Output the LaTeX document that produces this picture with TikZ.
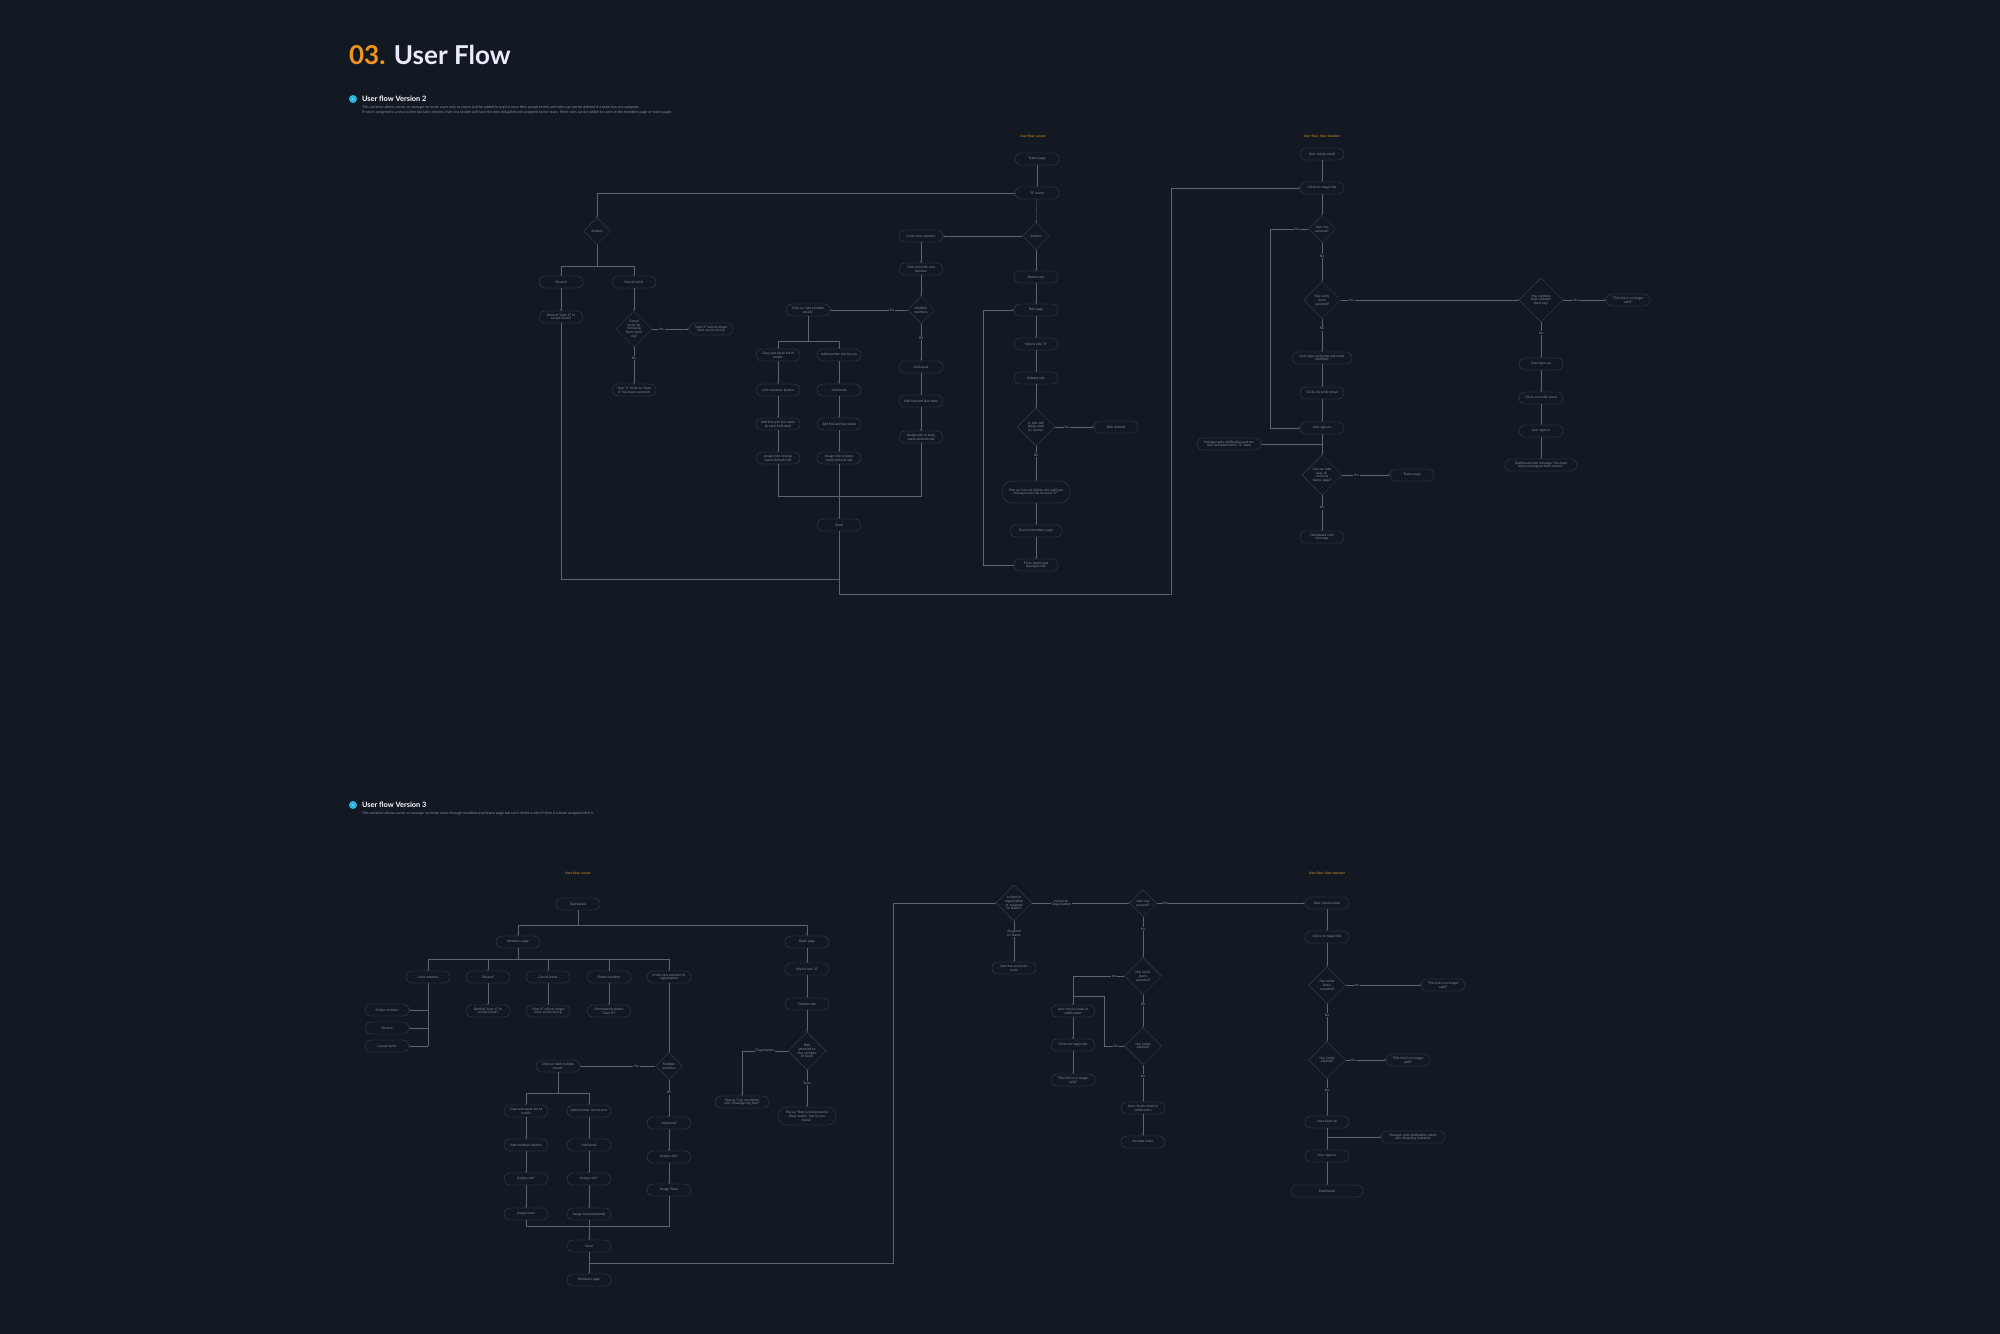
\documentclass[tikz,border=0pt]{standalone}
\usepackage{fontspec}
\setmainfont{Lato}
\usetikzlibrary{shapes.geometric,arrows.meta}
\definecolor{bg}{HTML}{121923}
\definecolor{boxc}{HTML}{3E4A5A}
\definecolor{linec}{HTML}{5A6676}
\definecolor{txt}{HTML}{8390A0}
\definecolor{orng}{HTML}{F0961E}
\definecolor{cyn}{HTML}{2EB4E0}
\newcommand\fsz{\fontsize{4.8}{5.4}\selectfont}
\begin{document}
\begin{tikzpicture}[x=0.05cm,y=-0.05cm,
  box/.style={draw=boxc,line width=0.4pt,rounded corners=0.3cm,minimum width=2.2cm,minimum height=0.6cm,align=center,text=txt,font=\fsz,inner sep=1pt},
  dia/.style={draw=boxc,line width=0.4pt,diamond,aspect=1,inner sep=0pt,align=center,text=txt,font=\fsz,minimum size=#1*0.05cm,text width=#1*0.027cm},
  lbl/.style={fill=bg,text=txt,font=\fsz,inner sep=1pt,align=center},
  hdr/.style={text=orng,font=\fsz},
  arr/.style={draw=linec,line width=0.4pt,-{Stealth[length=2.2pt,width=2pt]}},
  ln/.style={draw=linec,line width=0.4pt},
  desc/.style={text=txt,font=\fontsize{5.2}{6}\selectfont,anchor=west,inner sep=0pt},
  sub/.style={text=white,font=\fontsize{10.5}{12}\selectfont\bfseries,anchor=west,inner sep=0pt}]
\fill[bg] (0,0) rectangle (2000,1334);
\useasboundingbox (0,0) rectangle (2000,1334);
% ---------- Titles
\node[anchor=base west,inner sep=0pt,font=\fontsize{37}{40}\selectfont\bfseries] (title) at (349,64) {\textcolor{orng}{03.} \textcolor{white!92!blue}{User Flow}};
\node[circle,fill=cyn,minimum size=0.4cm,inner sep=0pt,text=white,font=\fontsize{4}{4}\selectfont] (b2) at (353,99) {2};
\node[sub] (s2) at (362,99) {User flow Version 2};
\node[desc] (d2a) at (362,107) {This variation allows owner or manager to invite users only to teams (will be added to org list once they accept invite) and roles can not be deleted if a team has one assigned.};
\node[desc] (d2b) at (362,112.5) {If role is assigned to a new invitee but later deleted, that new invitee will have the new defaulted role assigned to the team. More roles can be added to users in the members page or teams page.};
\node[circle,fill=cyn,minimum size=0.4cm,inner sep=0pt,text=white,font=\fontsize{4}{4}\selectfont] (b3) at (353,805) {3};
\node[sub] (s3) at (362,805) {User flow Version 3};
\node[desc] (d3a) at (362,813) {This variation allows owner or manager to invite users through members and teams page but can't delete a role if there is a team assigned with it};

% ================= V2 owner
\node[hdr] (h1) at (1033,136) {User flow: owner};
\node[box] (tp) at (1037,159) {Teams page};
\node[box] (xt) at (1037,193) {“X” teams};
\node[dia=27] (act) at (1036,236) {Actions};
\draw[arr] (tp)--(xt);
\draw[arr] (xt)--(act);
\node[box] (inv) at (921,236) {Invite new member};
\draw[arr] (act)--(inv);
\node[box] (cin) at (921,269) {Click on Invite new\\member};
\node[dia=27] (mm) at (921,310) {Multiple\\members};
\draw[arr] (inv)--(cin);
\draw[arr] (cin)--(mm);
\node[box] (cam) at (808,310) {Click on “add multiple\\emails”};
\draw[arr] (mm) -- node[lbl,pos=0.2]{Yes} (cam);
\node[box] (cp) at (778,355) {Copy and paste list of\\emails};
\node[box] (ao) at (839,355) {Add member one by one};
\coordinate (br1) at (808,341);
\draw[ln] (cam) -- (br1);
\draw[arr] (br1) -| (cp.north);
\draw[arr] (br1) -| (ao.north);
\node[box] (amb) at (778,390) {Add members button};
\node[box] (ae1) at (839,390) {Add email};
\node[box] (afl1) at (778,424) {Add first and last name\\to each individual};
\node[box] (afl2) at (839,424) {Add first and last name};
\node[box] (ar1) at (778,458) {Assign role or keep\\teams default role};
\node[box] (ar2) at (839,458) {Assign role or keep\\teams default role};
\draw[arr] (cp)--(amb); \draw[arr] (amb)--(afl1); \draw[arr] (afl1)--(ar1);
\draw[arr] (ao)--(ae1); \draw[arr] (ae1)--(afl2); \draw[arr] (afl2)--(ar2);
\node[box] (ae3) at (921,367) {Add email};
\node[box] (afl3) at (921,401) {Add first and last name};
\node[box] (ar3) at (921,437) {Assign role or keep\\teams default role};
\draw[arr] (mm) -- node[lbl,pos=0.4]{No} (ae3);
\draw[arr] (ae3)--(afl3); \draw[arr] (afl3)--(ar3);
\node[box] (send) at (839,525) {Send};
\coordinate (m1) at (921,496);
\draw[ln] (ar1.south) |- (m1) -- (ar3.south);
\draw[arr] (ar2) -- (send);
% top-left actions
\node[dia=27] (act2) at (597,231) {Actions};
\draw[arr] (xt.west) -| (act2.north);
\node[box] (res) at (561,282) {Resend};
\node[box] (can) at (634,282) {Cancel invite};
\coordinate (b1) at (597,266);
\draw[ln] (act2.south) -- (b1);
\draw[arr] (b1) -| (res.north);
\draw[arr] (b1) -| (can.north);
\node[box] (rem) at (561,317) {Remind “User X” to\\accept invite?};
\draw[arr] (res)--(rem);
\node[dia=33] (cd) at (634,329) {Cancel\\invite by\\removing\\them from\\org?};
\draw[arr] (can)--(cd);
\node[box] (nla) at (711,329) {“User X” will no longer\\have access to org};
\draw[arr] (cd) -- node[lbl,pos=0.25]{Yes} (nla);
\node[box] (cic) at (634,390) {“User X” invite to “team\\X” has been canceled};
\draw[arr] (cd) -- node[lbl,pos=0.3]{No} (cic);
% bottom connectors
\coordinate (c2) at (839,579);
\coordinate (c1) at (1171,594);
\draw[ln] (rem.south) |- (c2);
% role side
\node[box] (dr) at (1036,277) {Delete role};
\node[box] (rp) at (1036,310) {Role page};
\node[box] (sr) at (1036,344) {Selects role “X”};
\node[box] (dl) at (1036,378) {Deletes role};
\node[dia=38] (rd) at (1036,427) {Is role still\\being used\\by teams?};
\node[box] (rdel) at (1116,427) {Role deleted};
\node[box,minimum width=3.4cm,minimum height=1.1cm,rounded corners=0.5cm] (pop) at (1036,492) {Pop-up “can not delete role until you\\reassign new role to team “X””};
\node[box,minimum width=2.6cm] (gm) at (1036,531) {Goes to members page};
\node[box] (ft) at (1036,565) {Finds teams and\\reassigns role};
\draw[arr] (act)--(dr); \draw[arr] (dr)--(rp); \draw[arr] (rp)--(sr); \draw[arr] (sr)--(dl); \draw[arr] (dl)--(rd);
\draw[arr] (rd) -- node[lbl,pos=0.3]{Yes} (rdel);
\draw[arr] (rd) -- node[lbl,pos=0.25]{No} (pop);
\draw[arr] (pop)--(gm); \draw[arr] (gm)--(ft);
\coordinate (l1) at (983,0);
\draw[arr] (ft.west) -| (l1 |- rp) -- (rp.west);

% ================= V2 new member
\node[hdr] (h2) at (1322,136) {User flow: New member};
\node[box] (uce) at (1322,154) {User checks email};
\node[box] (cml) at (1322,188) {Clicks on magic link};
\draw[arr] (send.south) |- (c1) |- (cml.west);
\node[dia=27] (uha) at (1322,229) {User has\\account?};
\node[dia=37] (hic) at (1322,300) {Has invite\\been\\canceled?};
\node[dia=44] (hmd) at (1541,300) {Has member\\been deleted\\from org?};
\node[box] (nlv) at (1628,300) {“This link is no longer\\valid”};
\node[box] (usu2) at (1541,364) {User signs up};
\node[box] (cve2) at (1541,398) {Clicks on verify email};
\node[box] (usi2) at (1541,431) {User signs in};
\node[box,minimum width=3.6cm] (dwm2) at (1541,465) {Dashboard with message “You have\\been unassigned from a team.”};
\node[box,minimum width=3cm] (usu) at (1322,358) {User signs up (name and email\\prefilled)};
\node[box] (cve) at (1322,393) {Clicks on verify email};
\node[box] (usi) at (1322,428) {User signs in};
\node[box,minimum width=3.2cm] (mgn) at (1229,444) {Manager gets notification and see\\user accepted under “X” team};
\node[dia=40] (ctp) at (1322,475) {Can we take\\user directly to\\teams page?};
\node[box] (tpg) at (1412,475) {Teams page};
\node[box] (dwm) at (1322,537) {Dashboard with\\message};
\draw[arr] (uce)--(cml); \draw[arr] (cml)--(uha);
\draw[arr] (uha) -- node[lbl,pos=0.35]{No} (hic);
\draw[arr] (uha.west) -- node[lbl,pos=0.3]{Yes} (1270,229) |- (usi.west);
\draw[arr] (hic) -- node[lbl,pos=0.06]{Yes} (hmd);
\draw[arr] (hmd) -- node[lbl,pos=0.3]{Yes} (nlv);
\draw[arr] (hmd) -- node[lbl,pos=0.3]{No} (usu2);
\draw[arr] (usu2)--(cve2); \draw[arr] (cve2)--(usi2); \draw[arr] (usi2)--(dwm2);
\draw[arr] (hic) -- node[lbl,pos=0.3]{No} (usu);
\draw[arr] (usu)--(cve); \draw[arr] (cve)--(usi);
\draw[arr] (usi)--(ctp);
\coordinate (j1) at (1322,444);
\draw[arr] (j1) -- (mgn.east);
\draw[arr] (ctp) -- node[lbl,pos=0.3]{Yes} (tpg);
\draw[arr] (ctp) -- node[lbl,pos=0.35]{No} (dwm);

% ================= V3 owner
\node[hdr] (h3) at (578,873) {User flow: owner};
\node[box] (db) at (578,904) {Dashboard};
\node[box] (mp) at (518,942) {Members page};
\node[box] (rlp) at (807,942) {Roles page};
\coordinate (d1) at (578,925);
\draw[ln] (db)--(d1);
\draw[arr] (d1) -| (mp.north);
\draw[arr] (d1) -| (rlp.north);
\node[box] (vm) at (428,977) {View member};
\node[box] (rs) at (488,977) {Resend};
\node[box] (ci) at (548,977) {Cancel invite};
\node[box] (dm) at (609,977) {Delete member};
\node[box] (inm) at (669,977) {Invite new member to\\organization};
\coordinate (d2) at (518,959);
\draw[ln] (mp)--(d2);
\foreach \n in {vm,rs,ci,dm,inm} \draw[arr] (d2) -| (\n.north);
\node[box] (dm2) at (387,1010) {Delete member};
\node[box] (rs2) at (387,1028) {Resend};
\node[box] (ci2) at (387,1046) {Cancel invite};
\coordinate (v1) at (428,1046);
\draw[ln] (vm.south) -- (v1);
\draw[arr] (dm2 -| v1) -- (dm2.east);
\draw[arr] (rs2 -| v1) -- (rs2.east);
\draw[arr] (v1) -- (ci2.east);
\node[box] (rm3) at (488,1011) {Remind “User X” to\\accept invite?};
\node[box] (nla3) at (548,1011) {“User X” will no longer\\have access to org};
\node[box] (pd) at (609,1011) {Permanently delete\\“User X”?};
\draw[arr] (rs)--(rm3); \draw[arr] (ci)--(nla3); \draw[arr] (dm)--(pd);
\node[dia=27] (mm3) at (669,1066) {Multiple\\members};
\draw[arr] (inm)--(mm3);
\node[box] (cam3) at (558,1066) {Click on “add multiple\\emails”};
\draw[arr] (mm3) -- node[lbl,pos=0.25]{Yes} (cam3);
\node[box] (cp3) at (526,1111) {Copy and paste list of\\emails};
\node[box] (ao3) at (589,1111) {Add member one by one};
\coordinate (br3) at (558,1093);
\draw[ln] (cam3)--(br3);
\draw[arr] (br3) -| (cp3.north);
\draw[arr] (br3) -| (ao3.north);
\node[box] (amb3) at (526,1145) {Add members button};
\node[box] (ae3b) at (589,1145) {Add email};
\node[box] (ar3a) at (526,1179) {Assign role?};
\node[box] (ar3b) at (589,1179) {Assign role?};
\node[box] (at3a) at (526,1214) {Assign team};
\node[box] (at3b) at (589,1214) {Assign team (optional)};
\draw[arr] (cp3)--(amb3); \draw[arr] (amb3)--(ar3a); \draw[arr] (ar3a)--(at3a);
\draw[arr] (ao3)--(ae3b); \draw[arr] (ae3b)--(ar3b); \draw[arr] (ar3b)--(at3b);
\node[box] (ae3c) at (669,1123) {Add email};
\node[box] (ar3c) at (669,1157) {Assign role?};
\node[box] (at3c) at (669,1190) {Assign Team};
\draw[arr] (mm3) -- node[lbl,pos=0.35]{No} (ae3c);
\draw[arr] (ae3c)--(ar3c); \draw[arr] (ar3c)--(at3c);
\coordinate (m3) at (669,1226);
\draw[ln] (at3a.south) |- (m3) -- (at3c.south);
\node[box] (send3) at (589,1246) {Send};
\node[box] (mp3) at (589,1280) {Members page};
\draw[arr] (at3b)--(send3);
\draw[arr] (send3)--(mp3);
% roles
\node[box] (sr3) at (807,969) {Selects role “X”};
\node[box] (dl3) at (807,1004) {Deletes role};
\node[dia=38] (rad) at (807,1051) {Role\\attached to\\Org member\\or team};
\node[box,minimum width=2.7cm] (pu1) at (742,1102) {Pop up “Can not delete\\role. Unassign org first.”};
\node[box,minimum width=2.9cm,minimum height=0.9cm,rounded corners=0.45cm] (pu2) at (807,1116) {Pop up “Role is being used in\\these teams. Just so you\\know”};
\draw[arr] (rlp)--(sr3); \draw[arr] (sr3)--(dl3); \draw[arr] (dl3)--(rad);
\draw[arr] (rad.west) -| node[lbl,pos=0.25]{Organization} (pu1.north);
\draw[arr] (rad) -- node[lbl,pos=0.35]{Team} (pu2);

% ================= V3 new member (middle)
\node[dia=36] (inv3) at (1014,903) {Invited to\\organization\\or assigned\\to teams?};
\coordinate (e1) at (589,1263);
\coordinate (e2) at (893,1263);
\draw[arr] (e1) -- (e2) |- (inv3.west);
\node[dia=27] (uha3) at (1143,903) {User has\\account?};
\draw[arr] (inv3) -- node[lbl,pos=0.3]{Invited to\\Organization} (uha3);
\node[box] (uht) at (1014,968) {User has access to\\team};
\draw[arr] (inv3) -- node[lbl,pos=0.3]{Assigned\\to Teams} (uht);
\node[dia=37] (hic3) at (1143,976) {Has invite\\been\\canceled?};
\draw[arr] (uha3) -- node[lbl,pos=0.3]{Yes} (hic3);
\node[box] (uce3) at (1073,1011) {User checks email or\\notification};
\node[box] (cml3) at (1073,1045) {Clicks on magic link};
\node[box] (nlv3) at (1073,1080) {“This link is no longer\\valid”};
\draw[arr] (hic3.west) -| node[lbl,pos=0.1]{Yes} (uce3.north);
\draw[arr] (uce3)--(cml3); \draw[arr] (cml3)--(nlv3);
\node[dia=37] (hie3) at (1143,1046) {Has invite\\expired?};
\draw[arr] (hic3) -- node[lbl,pos=0.3]{No} (hie3);
\coordinate (k1) at (1073,996);
\draw[ln] (hie3.west) -- node[lbl,pos=0.4]{Yes} (1104,1046) |- (k1);
\node[box] (uce3b) at (1143,1108) {User checks email or\\notification};
\node[box] (acc) at (1143,1142) {Accepts invite};
\draw[arr] (hie3) -- node[lbl,pos=0.3]{No} (uce3b);
\draw[arr] (uce3b)--(acc);

% ================= V3 new member (right)
\node[hdr] (h4) at (1327,873) {User flow: New member};
\node[box] (uce4) at (1327,903) {User checks email};
\draw[arr] (uha3) -- node[lbl,pos=0.06]{No} (uce4);
\node[box] (cml4) at (1327,937) {Clicks on magic link};
\node[dia=37] (hic4) at (1327,985) {Has invite\\been\\canceled?};
\node[box] (nlv4) at (1443,985) {“This link is no longer\\valid”};
\node[dia=37] (hie4) at (1327,1060) {Has invite\\expired?};
\node[box] (nlv5) at (1408,1060) {“This link is no longer\\valid”};
\node[box] (usu4) at (1327,1122) {User signs up};
\node[box,minimum width=3.2cm] (mgn4) at (1413,1137) {Manager gets notification about\\user accepting invitation};
\node[box] (usi4) at (1327,1156) {User signs in};
\node[box,minimum width=3.6cm] (db4) at (1327,1191) {Dashboard};
\draw[arr] (uce4)--(cml4); \draw[arr] (cml4)--(hic4);
\draw[arr] (hic4) -- node[lbl,pos=0.15]{Yes} (nlv4);
\draw[arr] (hic4) -- node[lbl,pos=0.3]{No} (hie4);
\draw[arr] (hie4) -- node[lbl,pos=0.2]{Yes} (nlv5);
\draw[arr] (hie4) -- node[lbl,pos=0.3]{No} (usu4);
\draw[arr] (usu4)--(usi4);
\coordinate (j4) at (1327,1137);
\draw[arr] (j4) -- (mgn4.west);
\draw[arr] (usi4)--(db4);
\end{tikzpicture}
\end{document}
